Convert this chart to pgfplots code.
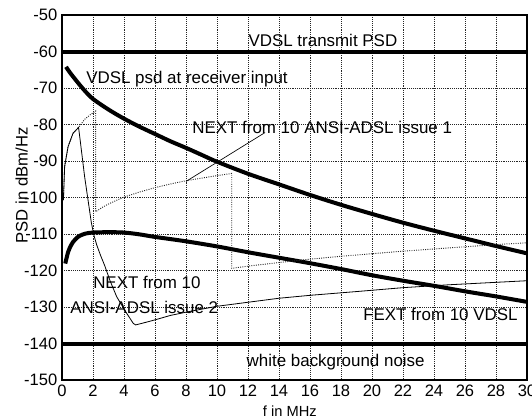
\documentclass[border=0pt]{standalone}
\usepackage{fontspec}
\setmainfont{Liberation Sans}
\usepackage{pgfplots}
\pgfplotsset{compat=1.18}
\begin{document}
\begin{tikzpicture}
\begin{axis}[
  scale only axis,
  width=348.75pt, height=273.75pt,
  xmin=0, xmax=30, ymin=-150, ymax=-50,
  xtick={0,2,...,30}, ytick={-150,-140,...,-50},
  grid=major,
  major grid style={densely dotted, black!85, line width=0.45pt},
  tick style={draw=none},
  axis line style={line width=0.8pt},
  /pgf/number format/assume math mode=true,
  ticklabel style={font=\fontsize{12.4pt}{14pt}\selectfont},
  xlabel={f in MHz}, ylabel={PSD in dBm/Hz},
  xlabel style={font=\fontsize{11pt}{13pt}\selectfont, at={(axis description cs:0.49,-0.085)}, anchor=center},
  ylabel style={font=\fontsize{12.5pt}{14pt}\selectfont, at={(axis description cs:-0.087,0.533)}, anchor=center},
]
% VDSL transmit PSD
\addplot[line width=3pt, black] coordinates {(0,-60) (30,-60)};
% white background noise
\addplot[line width=3pt, black] coordinates {(0,-140) (30,-140)};
% VDSL psd at receiver input
\addplot[line width=3pt, black, smooth] coordinates {
(0.26,-64.2) (0.5,-65.7) (1,-68.4) (1.5,-70.9) (2,-73.0) (3,-75.9) (4,-78.4) (5,-80.6) (6,-82.6) (7,-84.6) (8,-86.4) (9,-88.3) (10,-90.2) (12,-93.5) (14,-96.4) (16,-99.3) (18,-102) (20,-104.5) (22,-106.9) (24,-109.1) (26,-111.2) (28,-113.3) (30,-115.3)};
% FEXT from 10 VDSL
\addplot[line width=3pt, black, smooth] coordinates {
(0.21,-118.1) (0.3,-116.5) (0.39,-115) (0.5,-113.8) (0.71,-112.2) (1,-110.9) (1.14,-110.5) (1.5,-109.9) (2,-109.6) (3,-109.5) (4,-109.6) (5,-110.1) (6,-110.8) (8,-112) (10,-113.4) (12,-115) (14,-116.5) (16,-118) (18,-119.6) (20,-121.3) (22,-122.8) (24,-124.2) (26,-125.7) (28,-127.1) (30,-128.6)};
% NEXT issue 1 (dotted)
\addplot[densely dotted, line width=0.7pt, black!85] coordinates {
(0.09,-100.7) (0.17,-91.5) (0.39,-86.1) (0.71,-82.4) (1.07,-80.8) (1.46,-78.6) (1.8,-77.4) (2.17,-76.3)
(2.17,-103.9) (2.6,-102.7) (3,-101.8) (3.5,-100.8) (4,-99.9) (5,-98.5) (6,-97.3) (7,-96.3) (8,-95.4) (9,-94.7) (10,-94.0) (10.95,-93.4)
(10.95,-119.4) (12,-118.8) (14,-117.8) (16,-116.9) (18,-116.1) (20,-115.4) (22,-114.7) (24,-114.1) (26,-113.5) (28,-112.9) (30,-112.4)};
% NEXT issue 2 (solid thin)
\addplot[line width=0.6pt, black] coordinates {
(0.09,-100.7) (0.17,-91.5) (0.39,-86.1) (0.71,-82.4) (1.07,-80.8)
(1.25,-87) (1.46,-94.3) (1.68,-100.7) (1.89,-106.8) (2.05,-110.2) (2.24,-113) (2.5,-116) (2.75,-118.6) (3.1,-122.8) (3.53,-127.2) (4.17,-131.7) (4.6,-134.5) (4.75,-134.9)
(5.5,-134.1) (6.1,-133.4) (7,-132.3) (8.26,-131.2) (9,-130.6) (10,-129.8) (12,-128.7) (14,-127.6) (16,-126.8) (19.2,-125.7) (22,-124.7) (25,-123.9) (30,-122.8)};
% leader line
\addplot[line width=0.5pt, black] coordinates {(8.0,-95.6) (13.1,-82.2)};
% labels
\begin{scope}[every node/.style={anchor=base west, inner sep=0pt, font=\fontsize{12.7pt}{15pt}\selectfont}]
\node at (axis cs:12.02,-58.5) {VDSL transmit PSD};
\node at (axis cs:1.55,-68.7) {VDSL psd at receiver input};
\node at (axis cs:8.39,-82.4) {NEXT from 10 ANSI-ADSL issue 1};
\node at (axis cs:2.0,-124.9) {NEXT from 10};
\node at (axis cs:0.52,-131.7) {ANSI-ADSL issue 2};
\node at (axis cs:19.42,-133.75) {FEXT from 10 VDSL};
\node at (axis cs:11.9,-146.4) {white background noise};
\end{scope}
\end{axis}
\pgfresetboundingbox
\path (-46.5pt,-29.25pt) rectangle (352.5pt,285pt);
\end{tikzpicture}
\end{document}
